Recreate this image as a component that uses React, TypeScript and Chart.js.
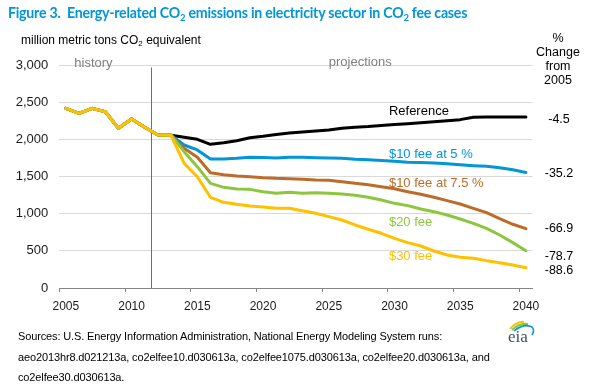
import React, { useEffect, useRef } from 'react';
import { Chart, registerables } from 'chart.js';

Chart.register(...registerables);

// ---------- data ----------
const years = [
  '2005', '2006', '2007', '2008', '2009', '2010', '2011', '2012', '2013', '2014',
  '2015', '2016', '2017', '2018', '2019', '2020', '2021', '2022', '2023', '2024',
  '2025', '2026', '2027', '2028', '2029', '2030', '2031', '2032', '2033', '2034',
  '2035', '2036', '2037', '2038', '2039', '2040',
];

// history 2005-2013 (shared by all cases)
const history = [2417, 2350, 2417, 2372, 2148, 2273, 2162, 2058, 2055];

// projections 2014-2040
const referenceProj = [
  2027, 2000, 1933, 1955, 1982, 2022, 2041, 2065, 2085, 2100, 2112, 2125, 2148, 2162,
  2172, 2187, 2198, 2210, 2222, 2235, 2250, 2265, 2296, 2300, 2300, 2300, 2300,
];
const fee10at5Proj = [
  1924, 1857, 1735, 1735, 1745, 1760, 1755, 1750, 1758, 1758, 1753, 1750, 1745, 1733,
  1725, 1715, 1705, 1693, 1688, 1682, 1670, 1657, 1646, 1637, 1619, 1590, 1555,
];
const fee10at75Proj = [
  1879, 1758, 1551, 1524, 1507, 1497, 1484, 1475, 1470, 1462, 1453, 1448, 1430, 1408,
  1390, 1363, 1336, 1296, 1260, 1220, 1175, 1130, 1072, 1013, 932, 857, 798,
];
const fee20Proj = [
  1834, 1632, 1408, 1354, 1332, 1327, 1296, 1274, 1287, 1274, 1280, 1274, 1265, 1247,
  1220, 1184, 1139, 1108, 1063, 1027, 982, 928, 870, 803, 713, 610, 502,
];
const fee30Proj = [
  1677, 1497, 1220, 1153, 1126, 1103, 1090, 1072, 1072, 1040, 1005, 960, 915, 848,
  790, 736, 668, 610, 565, 498, 444, 413, 400, 368, 341, 309, 273,
];

const seriesNames = ['Reference', '$10 fee at 5 %', '$10 fee at 7.5 %', '$20 fee', '$30 fee'];
const seriesValues = [
  [...history, ...referenceProj],
  [...history, ...fee10at5Proj],
  [...history, ...fee10at75Proj],
  [...history, ...fee20Proj],
  [...history, ...fee30Proj],
];
const pctChangeFrom2005 = ['-4.5', '-35.2', '-66.9', '-78.7', '-88.6'];

const yTicks = [0, 500, 1000, 1500, 2000, 2500, 3000];
const lastHistoryYear = '2011';

// ---------- styling / annotation placement ----------
const seriesColors = ['#000000', '#0096d7', '#bd6b27', '#8cc63f', '#ffc000'];
const seriesLabelValue = [2381, 1803, 1413, 888, 430];
const pctLabelValue = [2260, 1534, 794, 417, 229];
const FONT = '"Liberation Sans", Arial, sans-serif';

const annotationPlugin = {
  id: 'eiaAnnotations',
  beforeDatasetsDraw(chart: any) {
    const { ctx, chartArea, scales } = chart;
    const x = scales.x;
    const xp = Math.round(x.getPixelForValue(years.indexOf(lastHistoryYear) + 0.5)) + 0.5;
    ctx.save();
    ctx.strokeStyle = '#6e6e6e';
    ctx.lineWidth = 1;
    ctx.beginPath();
    ctx.moveTo(xp, chartArea.top + 2.5);
    ctx.lineTo(xp, chartArea.bottom);
    ctx.stroke();
    ctx.restore();
  },
  afterDraw(chart: any) {
    const { ctx, chartArea, scales } = chart;
    const x = scales.x;
    const y = scales.y;
    ctx.save();
    ctx.textBaseline = 'middle';
    // history / projections
    ctx.font = `13px ${FONT}`;
    ctx.fillStyle = '#7f7f7f';
    ctx.textAlign = 'left';
    ctx.fillText('history', x.getPixelForValue(0.64), y.getPixelForValue(3023));
    ctx.fillText('projections', x.getPixelForValue(20), y.getPixelForValue(3030));
    // series labels
    const lx = x.getPixelForValue(24.5) + 1;
    seriesNames.forEach((name, i) => {
      ctx.fillStyle = i === 0 ? '#000000' : seriesColors[i];
      ctx.fillText(name, lx, y.getPixelForValue(seriesLabelValue[i]));
    });
    // percent change labels
    ctx.font = `12.5px ${FONT}`;
    ctx.fillStyle = '#000000';
    ctx.textAlign = 'center';
    pctChangeFrom2005.forEach((t, i) => {
      ctx.fillText(t, chartArea.right + 26.5, y.getPixelForValue(pctLabelValue[i]));
    });
    ctx.restore();
  },
};

function EiaLogo() {
  return (
    <svg
      width={32}
      height={28}
      viewBox="0 0 32 28"
      style={{ position: 'absolute', left: 504, top: 317 }}
    >
      <path d="M6 12 Q12 4 20 5" stroke="#f5c400" strokeWidth={2} fill="none" />
      <path d="M8 13 Q15 6 24 7" stroke="#8cc63f" strokeWidth={2} fill="none" />
      <path d="M10 14 Q20 6 28 10 Q31 13 28 18" stroke="#0096d7" strokeWidth={1.6} fill="none" />
      <text x={4} y={25} fontFamily='"Liberation Serif", "DejaVu Serif", serif' fontSize={17} fill="#44505e">
        eia
      </text>
    </svg>
  );
}

export default function App() {
  const canvasRef = useRef<HTMLCanvasElement | null>(null);

  useEffect(() => {
    if (!canvasRef.current) return;
    const chart = new Chart(canvasRef.current, {
      type: 'line',
      data: {
        labels: years,
        datasets: seriesNames.map((name, i) => ({
          label: name,
          data: seriesValues[i],
          borderColor: seriesColors[i],
          backgroundColor: seriesColors[i],
          borderWidth: 3,
          pointRadius: 0,
          tension: 0,
          borderJoinStyle: 'round' as const,
          borderCapStyle: 'round' as const,
          order: seriesNames.length - 1 - i,
        })),
      },
      options: {
        responsive: false,
        animation: false,
        devicePixelRatio: 1,
        layout: { padding: { left: 0, top: 65, right: 61.5, bottom: 69 } },
        plugins: { legend: { display: false }, tooltip: { enabled: false } },
        scales: {
          x: {
            type: 'category',
            offset: true,
            grid: {
              offset: true,
              drawOnChartArea: false,
              drawTicks: true,
              tickLength: 4,
              color: (c: any) =>
                c.index !== undefined && c.index % 5 === 0 ? '#868686' : 'rgba(0,0,0,0)',
            },
            border: { display: true, color: '#868686', width: 1 },
            ticks: {
              autoSkip: false,
              maxRotation: 0,
              minRotation: 0,
              padding: 7,
              color: '#1a1a1a',
              font: { family: FONT, size: 12 },
              callback: (_v: any, idx: number) => (Number(years[idx]) % 5 === 0 ? years[idx] : ''),
            },
            afterFit: (s: any) => {
              s.height = 30;
            },
          },
          y: {
            min: 0,
            max: 3000,
            afterBuildTicks: (s: any) => {
              s.ticks = yTicks.map((v) => ({ value: v }));
            },
            grid: {
              drawTicks: false,
              color: (c: any) => (c.tick && c.tick.value === 0 ? '#868686' : '#d9d9d9'),
            },
            border: { display: false },
            ticks: {
              padding: 11,
              color: '#1a1a1a',
              font: { family: FONT, size: 13 },
              callback: (v: any) => Number(v).toLocaleString('en-US'),
            },
            afterFit: (s: any) => {
              s.width = 59.3;
            },
          },
        },
      },
      plugins: [annotationPlugin],
    });
    return () => chart.destroy();
  }, []);

  const txt = (style: React.CSSProperties, children: React.ReactNode) => (
    <div style={{ position: 'absolute', whiteSpace: 'nowrap', fontFamily: FONT, color: '#000', ...style }}>
      {children}
    </div>
  );

  return (
    <div
      style={{
        position: 'fixed',
        left: 0,
        top: 0,
        width: 594,
        height: 387,
        background: '#ffffff',
        overflow: 'hidden',
      }}
    >
      <canvas ref={canvasRef} width={594} height={387} style={{ position: 'absolute', left: 0, top: 0 }} />
      {txt(
        {
          left: 8,
          top: 4,
          fontFamily: 'Lato, "Open Sans", sans-serif',
          fontWeight: 700,
          fontSize: 14.2,
          letterSpacing: '-0.25px',
          lineHeight: '18px',
          color: '#0096d7',
        },
        <>
          Figure 3.&nbsp; Energy-related CO<sub style={{ fontSize: 9.5, verticalAlign: '-3px', lineHeight: 0 }}>2</sub> emissions in electricity sector in CO
          <sub style={{ fontSize: 9.5, verticalAlign: '-3px', lineHeight: 0 }}>2</sub> fee cases
        </>
      )}
      {txt(
        { left: 21, top: 33, fontSize: 12, lineHeight: '14px' },
        <>
          million metric tons CO<sub style={{ fontSize: 8, verticalAlign: '-2px', lineHeight: 0 }}>2</sub> equivalent
        </>
      )}
      {['%', 'Change', 'from', '2005'].map((t, i) =>
        txt(
          {
            left: 518,
            width: 80,
            textAlign: 'center',
            top: [31, 44.5, 58.5, 72.5][i],
            fontSize: 12.5,
            lineHeight: '14px',
          },
          <span key={t}>{t}</span>
        )
      )}
      {[
        'Sources: U.S. Energy Information Administration, National Energy Modeling System runs:',
        'aeo2013hr8.d021213a, co2elfee10.d030613a, co2elfee1075.d030613a, co2elfee20.d030613a, and',
        'co2elfee30.d030613a.',
      ].map((t, i) =>
        txt(
          { left: 18, top: [329, 350, 369.7][i], fontSize: 11, lineHeight: '14px', letterSpacing: '-0.13px' },
          <span key={i}>{t}</span>
        )
      )}
      <EiaLogo />
    </div>
  );
}
